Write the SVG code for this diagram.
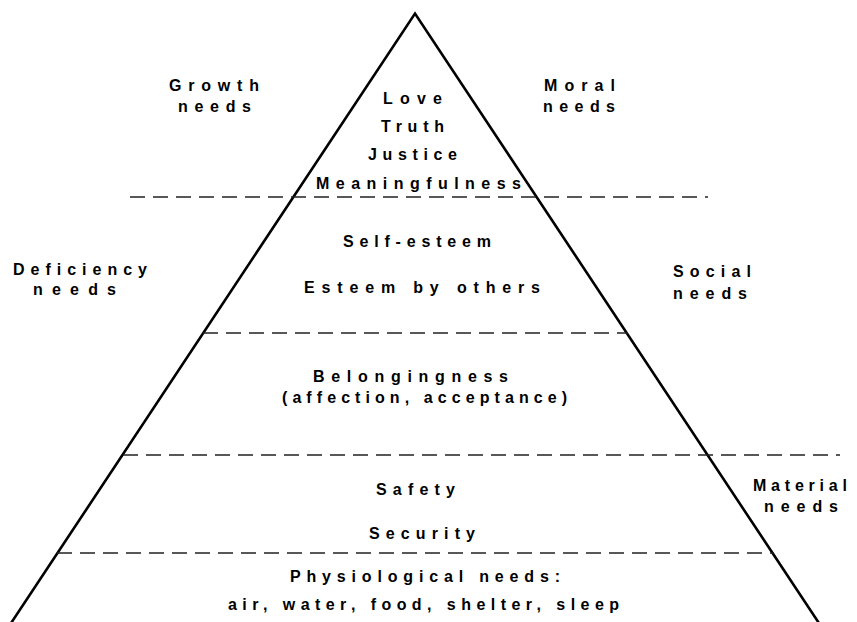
<svg xmlns="http://www.w3.org/2000/svg" width="857" height="622" viewBox="0 0 857 622">
<style>
text{font-family:"Liberation Sans",Arial,sans-serif;font-weight:bold;font-size:16px;fill:#000}
.dash{stroke:#222;stroke-width:1.4;stroke-dasharray:15 8;fill:none}
.edge{stroke:#000;stroke-width:2.6;fill:none;stroke-linejoin:miter;stroke-miterlimit:20}
</style>
<rect width="857" height="622" fill="#fff"/>
<g id="connectors">
<path class="edge" d="M7.8 628 L415 13.5 L822.2 628"/>
<line class="dash" x1="130" y1="197" x2="708" y2="197"/>
<line class="dash" x1="203" y1="333" x2="628" y2="333"/>
<line class="dash" x1="123" y1="455" x2="840" y2="455"/>
<line class="dash" x1="57" y1="553" x2="774" y2="553"/>
</g>
<g id="growth">
<text x="169" y="91" textLength="90" lengthAdjust="spacing">Growth</text>
<text x="178" y="112" textLength="73" lengthAdjust="spacing">needs</text>
</g>
<g id="moral">
<text x="544" y="91" textLength="71" lengthAdjust="spacing">Moral</text>
<text x="543" y="112" textLength="72" lengthAdjust="spacing">needs</text>
</g>
<g id="top-level">
<text x="383" y="104" textLength="59" lengthAdjust="spacing">Love</text>
<text x="381" y="132" textLength="63" lengthAdjust="spacing">Truth</text>
<text x="368" y="160" textLength="89" lengthAdjust="spacing">Justice</text>
<text x="316" y="189" textLength="205" lengthAdjust="spacing">Meaningfulness</text>
</g>
<g id="deficiency">
<text x="13" y="275" textLength="134" lengthAdjust="spacing">Deficiency</text>
<text x="33" y="295" textLength="83" lengthAdjust="spacing">needs</text>
</g>
<g id="social">
<text x="673" y="277" textLength="78" lengthAdjust="spacing">Social</text>
<text x="673" y="299" textLength="74" lengthAdjust="spacing">needs</text>
</g>
<g id="esteem-level">
<text x="343" y="247" textLength="148" lengthAdjust="spacing">Self-esteem</text>
<text x="304" y="293" textLength="236" lengthAdjust="spacing">Esteem by others</text>
</g>
<g id="belonging-level">
<text x="313" y="382" textLength="195" lengthAdjust="spacing">Belongingness</text>
<text x="282" y="403" textLength="285" lengthAdjust="spacing">(affection, acceptance)</text>
</g>
<g id="safety-level">
<text x="376" y="495" textLength="79" lengthAdjust="spacing">Safety</text>
<text x="369" y="539" textLength="106" lengthAdjust="spacing">Security</text>
</g>
<g id="material">
<text x="753" y="491" textLength="94" lengthAdjust="spacing">Material</text>
<text x="764" y="512" textLength="74" lengthAdjust="spacing">needs</text>
</g>
<g id="physiological-level">
<text x="290" y="582" textLength="270" lengthAdjust="spacing">Physiological needs:</text>
<text x="228" y="610" textLength="391" lengthAdjust="spacing">air, water, food, shelter, sleep</text>
</g>
</svg>
